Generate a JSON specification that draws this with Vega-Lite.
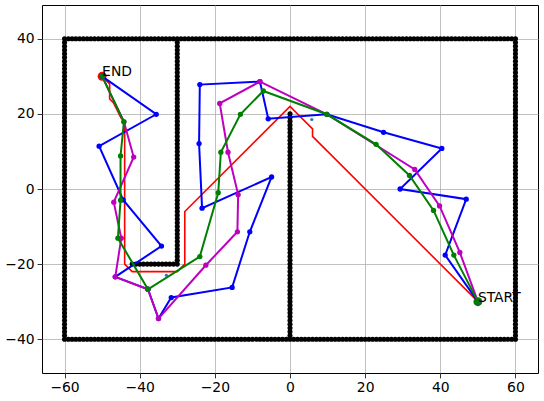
{
  "$schema": "https://vega.github.io/schema/vega-lite/v6.json",
  "width": 496,
  "height": 368,
  "autosize": "none",
  "padding": {"left": 42, "top": 5, "right": 6, "bottom": 28},
  "background": "white",
  "config": {
    "view": {"stroke": "black", "strokeWidth": 1},
    "axis": {
      "grid": true, "gridColor": "#b0b0b0", "gridWidth": 0.8,
      "domain": false, "tickColor": "black", "tickSize": 4.9, "tickWidth": 0.8,
      "labelFont": "DejaVu Sans", "labelFontSize": 13.9, "labelColor": "black",
      "labelPadding": 3, "title": null
    }
  },
  "datasets": {
    "walls": [
      {"x":-60,"y":40},{"x":-59,"y":40},{"x":-58,"y":40},{"x":-57,"y":40},{"x":-56,"y":40},{"x":-55,"y":40},{"x":-54,"y":40},{"x":-53,"y":40},{"x":-52,"y":40},{"x":-51,"y":40},
      {"x":-50,"y":40},{"x":-49,"y":40},{"x":-48,"y":40},{"x":-47,"y":40},{"x":-46,"y":40},{"x":-45,"y":40},{"x":-44,"y":40},{"x":-43,"y":40},{"x":-42,"y":40},{"x":-41,"y":40},
      {"x":-40,"y":40},{"x":-39,"y":40},{"x":-38,"y":40},{"x":-37,"y":40},{"x":-36,"y":40},{"x":-35,"y":40},{"x":-34,"y":40},{"x":-33,"y":40},{"x":-32,"y":40},{"x":-31,"y":40},
      {"x":-30,"y":40},{"x":-29,"y":40},{"x":-28,"y":40},{"x":-27,"y":40},{"x":-26,"y":40},{"x":-25,"y":40},{"x":-24,"y":40},{"x":-23,"y":40},{"x":-22,"y":40},{"x":-21,"y":40},
      {"x":-20,"y":40},{"x":-19,"y":40},{"x":-18,"y":40},{"x":-17,"y":40},{"x":-16,"y":40},{"x":-15,"y":40},{"x":-14,"y":40},{"x":-13,"y":40},{"x":-12,"y":40},{"x":-11,"y":40},
      {"x":-10,"y":40},{"x":-9,"y":40},{"x":-8,"y":40},{"x":-7,"y":40},{"x":-6,"y":40},{"x":-5,"y":40},{"x":-4,"y":40},{"x":-3,"y":40},{"x":-2,"y":40},{"x":-1,"y":40},
      {"x":0,"y":40},{"x":1,"y":40},{"x":2,"y":40},{"x":3,"y":40},{"x":4,"y":40},{"x":5,"y":40},{"x":6,"y":40},{"x":7,"y":40},{"x":8,"y":40},{"x":9,"y":40},
      {"x":10,"y":40},{"x":11,"y":40},{"x":12,"y":40},{"x":13,"y":40},{"x":14,"y":40},{"x":15,"y":40},{"x":16,"y":40},{"x":17,"y":40},{"x":18,"y":40},{"x":19,"y":40},
      {"x":20,"y":40},{"x":21,"y":40},{"x":22,"y":40},{"x":23,"y":40},{"x":24,"y":40},{"x":25,"y":40},{"x":26,"y":40},{"x":27,"y":40},{"x":28,"y":40},{"x":29,"y":40},
      {"x":30,"y":40},{"x":31,"y":40},{"x":32,"y":40},{"x":33,"y":40},{"x":34,"y":40},{"x":35,"y":40},{"x":36,"y":40},{"x":37,"y":40},{"x":38,"y":40},{"x":39,"y":40},
      {"x":40,"y":40},{"x":41,"y":40},{"x":42,"y":40},{"x":43,"y":40},{"x":44,"y":40},{"x":45,"y":40},{"x":46,"y":40},{"x":47,"y":40},{"x":48,"y":40},{"x":49,"y":40},
      {"x":50,"y":40},{"x":51,"y":40},{"x":52,"y":40},{"x":53,"y":40},{"x":54,"y":40},{"x":55,"y":40},{"x":56,"y":40},{"x":57,"y":40},{"x":58,"y":40},{"x":59,"y":40},{"x":60,"y":40},

      {"x":-60,"y":-40},{"x":-59,"y":-40},{"x":-58,"y":-40},{"x":-57,"y":-40},{"x":-56,"y":-40},{"x":-55,"y":-40},{"x":-54,"y":-40},{"x":-53,"y":-40},{"x":-52,"y":-40},{"x":-51,"y":-40},
      {"x":-50,"y":-40},{"x":-49,"y":-40},{"x":-48,"y":-40},{"x":-47,"y":-40},{"x":-46,"y":-40},{"x":-45,"y":-40},{"x":-44,"y":-40},{"x":-43,"y":-40},{"x":-42,"y":-40},{"x":-41,"y":-40},
      {"x":-40,"y":-40},{"x":-39,"y":-40},{"x":-38,"y":-40},{"x":-37,"y":-40},{"x":-36,"y":-40},{"x":-35,"y":-40},{"x":-34,"y":-40},{"x":-33,"y":-40},{"x":-32,"y":-40},{"x":-31,"y":-40},
      {"x":-30,"y":-40},{"x":-29,"y":-40},{"x":-28,"y":-40},{"x":-27,"y":-40},{"x":-26,"y":-40},{"x":-25,"y":-40},{"x":-24,"y":-40},{"x":-23,"y":-40},{"x":-22,"y":-40},{"x":-21,"y":-40},
      {"x":-20,"y":-40},{"x":-19,"y":-40},{"x":-18,"y":-40},{"x":-17,"y":-40},{"x":-16,"y":-40},{"x":-15,"y":-40},{"x":-14,"y":-40},{"x":-13,"y":-40},{"x":-12,"y":-40},{"x":-11,"y":-40},
      {"x":-10,"y":-40},{"x":-9,"y":-40},{"x":-8,"y":-40},{"x":-7,"y":-40},{"x":-6,"y":-40},{"x":-5,"y":-40},{"x":-4,"y":-40},{"x":-3,"y":-40},{"x":-2,"y":-40},{"x":-1,"y":-40},
      {"x":0,"y":-40},{"x":1,"y":-40},{"x":2,"y":-40},{"x":3,"y":-40},{"x":4,"y":-40},{"x":5,"y":-40},{"x":6,"y":-40},{"x":7,"y":-40},{"x":8,"y":-40},{"x":9,"y":-40},
      {"x":10,"y":-40},{"x":11,"y":-40},{"x":12,"y":-40},{"x":13,"y":-40},{"x":14,"y":-40},{"x":15,"y":-40},{"x":16,"y":-40},{"x":17,"y":-40},{"x":18,"y":-40},{"x":19,"y":-40},
      {"x":20,"y":-40},{"x":21,"y":-40},{"x":22,"y":-40},{"x":23,"y":-40},{"x":24,"y":-40},{"x":25,"y":-40},{"x":26,"y":-40},{"x":27,"y":-40},{"x":28,"y":-40},{"x":29,"y":-40},
      {"x":30,"y":-40},{"x":31,"y":-40},{"x":32,"y":-40},{"x":33,"y":-40},{"x":34,"y":-40},{"x":35,"y":-40},{"x":36,"y":-40},{"x":37,"y":-40},{"x":38,"y":-40},{"x":39,"y":-40},
      {"x":40,"y":-40},{"x":41,"y":-40},{"x":42,"y":-40},{"x":43,"y":-40},{"x":44,"y":-40},{"x":45,"y":-40},{"x":46,"y":-40},{"x":47,"y":-40},{"x":48,"y":-40},{"x":49,"y":-40},
      {"x":50,"y":-40},{"x":51,"y":-40},{"x":52,"y":-40},{"x":53,"y":-40},{"x":54,"y":-40},{"x":55,"y":-40},{"x":56,"y":-40},{"x":57,"y":-40},{"x":58,"y":-40},{"x":59,"y":-40},{"x":60,"y":-40},

      {"x":-60,"y":-39},{"x":-60,"y":-38},{"x":-60,"y":-37},{"x":-60,"y":-36},{"x":-60,"y":-35},{"x":-60,"y":-34},{"x":-60,"y":-33},{"x":-60,"y":-32},{"x":-60,"y":-31},{"x":-60,"y":-30},
      {"x":-60,"y":-29},{"x":-60,"y":-28},{"x":-60,"y":-27},{"x":-60,"y":-26},{"x":-60,"y":-25},{"x":-60,"y":-24},{"x":-60,"y":-23},{"x":-60,"y":-22},{"x":-60,"y":-21},{"x":-60,"y":-20},
      {"x":-60,"y":-19},{"x":-60,"y":-18},{"x":-60,"y":-17},{"x":-60,"y":-16},{"x":-60,"y":-15},{"x":-60,"y":-14},{"x":-60,"y":-13},{"x":-60,"y":-12},{"x":-60,"y":-11},{"x":-60,"y":-10},
      {"x":-60,"y":-9},{"x":-60,"y":-8},{"x":-60,"y":-7},{"x":-60,"y":-6},{"x":-60,"y":-5},{"x":-60,"y":-4},{"x":-60,"y":-3},{"x":-60,"y":-2},{"x":-60,"y":-1},{"x":-60,"y":0},
      {"x":-60,"y":1},{"x":-60,"y":2},{"x":-60,"y":3},{"x":-60,"y":4},{"x":-60,"y":5},{"x":-60,"y":6},{"x":-60,"y":7},{"x":-60,"y":8},{"x":-60,"y":9},{"x":-60,"y":10},
      {"x":-60,"y":11},{"x":-60,"y":12},{"x":-60,"y":13},{"x":-60,"y":14},{"x":-60,"y":15},{"x":-60,"y":16},{"x":-60,"y":17},{"x":-60,"y":18},{"x":-60,"y":19},{"x":-60,"y":20},
      {"x":-60,"y":21},{"x":-60,"y":22},{"x":-60,"y":23},{"x":-60,"y":24},{"x":-60,"y":25},{"x":-60,"y":26},{"x":-60,"y":27},{"x":-60,"y":28},{"x":-60,"y":29},{"x":-60,"y":30},
      {"x":-60,"y":31},{"x":-60,"y":32},{"x":-60,"y":33},{"x":-60,"y":34},{"x":-60,"y":35},{"x":-60,"y":36},{"x":-60,"y":37},{"x":-60,"y":38},{"x":-60,"y":39},

      {"x":60,"y":-39},{"x":60,"y":-38},{"x":60,"y":-37},{"x":60,"y":-36},{"x":60,"y":-35},{"x":60,"y":-34},{"x":60,"y":-33},{"x":60,"y":-32},{"x":60,"y":-31},{"x":60,"y":-30},
      {"x":60,"y":-29},{"x":60,"y":-28},{"x":60,"y":-27},{"x":60,"y":-26},{"x":60,"y":-25},{"x":60,"y":-24},{"x":60,"y":-23},{"x":60,"y":-22},{"x":60,"y":-21},{"x":60,"y":-20},
      {"x":60,"y":-19},{"x":60,"y":-18},{"x":60,"y":-17},{"x":60,"y":-16},{"x":60,"y":-15},{"x":60,"y":-14},{"x":60,"y":-13},{"x":60,"y":-12},{"x":60,"y":-11},{"x":60,"y":-10},
      {"x":60,"y":-9},{"x":60,"y":-8},{"x":60,"y":-7},{"x":60,"y":-6},{"x":60,"y":-5},{"x":60,"y":-4},{"x":60,"y":-3},{"x":60,"y":-2},{"x":60,"y":-1},{"x":60,"y":0},
      {"x":60,"y":1},{"x":60,"y":2},{"x":60,"y":3},{"x":60,"y":4},{"x":60,"y":5},{"x":60,"y":6},{"x":60,"y":7},{"x":60,"y":8},{"x":60,"y":9},{"x":60,"y":10},
      {"x":60,"y":11},{"x":60,"y":12},{"x":60,"y":13},{"x":60,"y":14},{"x":60,"y":15},{"x":60,"y":16},{"x":60,"y":17},{"x":60,"y":18},{"x":60,"y":19},{"x":60,"y":20},
      {"x":60,"y":21},{"x":60,"y":22},{"x":60,"y":23},{"x":60,"y":24},{"x":60,"y":25},{"x":60,"y":26},{"x":60,"y":27},{"x":60,"y":28},{"x":60,"y":29},{"x":60,"y":30},
      {"x":60,"y":31},{"x":60,"y":32},{"x":60,"y":33},{"x":60,"y":34},{"x":60,"y":35},{"x":60,"y":36},{"x":60,"y":37},{"x":60,"y":38},{"x":60,"y":39},

      {"x":-30,"y":-20},{"x":-30,"y":-19},{"x":-30,"y":-18},{"x":-30,"y":-17},{"x":-30,"y":-16},{"x":-30,"y":-15},{"x":-30,"y":-14},{"x":-30,"y":-13},{"x":-30,"y":-12},{"x":-30,"y":-11},
      {"x":-30,"y":-10},{"x":-30,"y":-9},{"x":-30,"y":-8},{"x":-30,"y":-7},{"x":-30,"y":-6},{"x":-30,"y":-5},{"x":-30,"y":-4},{"x":-30,"y":-3},{"x":-30,"y":-2},{"x":-30,"y":-1},
      {"x":-30,"y":0},{"x":-30,"y":1},{"x":-30,"y":2},{"x":-30,"y":3},{"x":-30,"y":4},{"x":-30,"y":5},{"x":-30,"y":6},{"x":-30,"y":7},{"x":-30,"y":8},{"x":-30,"y":9},
      {"x":-30,"y":10},{"x":-30,"y":11},{"x":-30,"y":12},{"x":-30,"y":13},{"x":-30,"y":14},{"x":-30,"y":15},{"x":-30,"y":16},{"x":-30,"y":17},{"x":-30,"y":18},{"x":-30,"y":19},
      {"x":-30,"y":20},{"x":-30,"y":21},{"x":-30,"y":22},{"x":-30,"y":23},{"x":-30,"y":24},{"x":-30,"y":25},{"x":-30,"y":26},{"x":-30,"y":27},{"x":-30,"y":28},{"x":-30,"y":29},
      {"x":-30,"y":30},{"x":-30,"y":31},{"x":-30,"y":32},{"x":-30,"y":33},{"x":-30,"y":34},{"x":-30,"y":35},{"x":-30,"y":36},{"x":-30,"y":37},{"x":-30,"y":38},{"x":-30,"y":39},

      {"x":-42,"y":-20},{"x":-41,"y":-20},{"x":-40,"y":-20},{"x":-39,"y":-20},{"x":-38,"y":-20},{"x":-37,"y":-20},{"x":-36,"y":-20},{"x":-35,"y":-20},{"x":-34,"y":-20},{"x":-33,"y":-20},{"x":-32,"y":-20},{"x":-31,"y":-20},

      {"x":0,"y":-39},{"x":0,"y":-38},{"x":0,"y":-37},{"x":0,"y":-36},{"x":0,"y":-35},{"x":0,"y":-34},{"x":0,"y":-33},{"x":0,"y":-32},{"x":0,"y":-31},{"x":0,"y":-30},
      {"x":0,"y":-29},{"x":0,"y":-28},{"x":0,"y":-27},{"x":0,"y":-26},{"x":0,"y":-25},{"x":0,"y":-24},{"x":0,"y":-23},{"x":0,"y":-22},{"x":0,"y":-21},{"x":0,"y":-20},
      {"x":0,"y":-19},{"x":0,"y":-18},{"x":0,"y":-17},{"x":0,"y":-16},{"x":0,"y":-15},{"x":0,"y":-14},{"x":0,"y":-13},{"x":0,"y":-12},{"x":0,"y":-11},{"x":0,"y":-10},
      {"x":0,"y":-9},{"x":0,"y":-8},{"x":0,"y":-7},{"x":0,"y":-6},{"x":0,"y":-5},{"x":0,"y":-4},{"x":0,"y":-3},{"x":0,"y":-2},{"x":0,"y":-1},{"x":0,"y":0},
      {"x":0,"y":1},{"x":0,"y":2},{"x":0,"y":3},{"x":0,"y":4},{"x":0,"y":5},{"x":0,"y":6},{"x":0,"y":7},{"x":0,"y":8},{"x":0,"y":9},{"x":0,"y":10},
      {"x":0,"y":11},{"x":0,"y":12},{"x":0,"y":13},{"x":0,"y":14},{"x":0,"y":15},{"x":0,"y":16},{"x":0,"y":17},{"x":0,"y":18},{"x":0,"y":19},{"x":0,"y":20}
    ],
    "paths": [
      {"s":"astar","i":0,"x":50,"y":-30},{"s":"astar","i":1,"x":6,"y":14},{"s":"astar","i":2,"x":6,"y":16},{"s":"astar","i":3,"x":0,"y":22},
      {"s":"astar","i":4,"x":-28,"y":-6},{"s":"astar","i":5,"x":-28,"y":-20},{"s":"astar","i":6,"x":-30,"y":-22},{"s":"astar","i":7,"x":-42,"y":-22},
      {"s":"astar","i":8,"x":-44,"y":-20},{"s":"astar","i":9,"x":-44,"y":18},{"s":"astar","i":10,"x":-45,"y":19},{"s":"astar","i":11,"x":-46,"y":21},
      {"s":"astar","i":12,"x":-47,"y":23},{"s":"astar","i":13,"x":-48,"y":24},{"s":"astar","i":14,"x":-48,"y":28},{"s":"astar","i":15,"x":-50,"y":30},

      {"s":"rrt","i":0,"x":50,"y":-30},{"s":"rrt","i":1,"x":41.3,"y":-17.6},{"s":"rrt","i":2,"x":46.9,"y":-2.7},{"s":"rrt","i":3,"x":29.3,"y":0},
      {"s":"rrt","i":4,"x":40.4,"y":10.8},{"s":"rrt","i":5,"x":24.9,"y":15.1},{"s":"rrt","i":6,"x":9.8,"y":19.9},{"s":"rrt","i":7,"x":-5.8,"y":18.7},
      {"s":"rrt","i":8,"x":-8,"y":28.6},{"s":"rrt","i":9,"x":-24,"y":27.8},{"s":"rrt","i":10,"x":-24.2,"y":12.1},{"s":"rrt","i":11,"x":-23.4,"y":-5.1},
      {"s":"rrt","i":12,"x":-4.9,"y":3.2},{"s":"rrt","i":13,"x":-10.7,"y":-11.4},{"s":"rrt","i":14,"x":-15.4,"y":-26.2},{"s":"rrt","i":15,"x":-31.6,"y":-28.9},
      {"s":"rrt","i":16,"x":-35,"y":-34.5},{"s":"rrt","i":17,"x":-37.8,"y":-26.7},{"s":"rrt","i":18,"x":-46.5,"y":-23.4},{"s":"rrt","i":19,"x":-34.2,"y":-15.2},
      {"s":"rrt","i":20,"x":-44.4,"y":-2.9},{"s":"rrt","i":21,"x":-50.8,"y":11.4},{"s":"rrt","i":22,"x":-35.6,"y":19.9},{"s":"rrt","i":23,"x":-50,"y":30},

      {"s":"rrtstar","i":0,"x":50,"y":-30},{"s":"rrtstar","i":1,"x":45.2,"y":-16.9},{"s":"rrtstar","i":2,"x":39.8,"y":-4.5},{"s":"rrtstar","i":3,"x":33.2,"y":5.2},
      {"s":"rrtstar","i":4,"x":9.8,"y":19.9},{"s":"rrtstar","i":5,"x":-8,"y":28.6},{"s":"rrtstar","i":6,"x":-18.7,"y":22.8},{"s":"rrtstar","i":7,"x":-16.5,"y":9.8},
      {"s":"rrtstar","i":8,"x":-13.8,"y":-1.5},{"s":"rrtstar","i":9,"x":-14,"y":-11.4},{"s":"rrtstar","i":10,"x":-22.4,"y":-20.3},{"s":"rrtstar","i":11,"x":-35,"y":-34.5},
      {"s":"rrtstar","i":12,"x":-37.8,"y":-26.7},{"s":"rrtstar","i":13,"x":-46.5,"y":-23.4},{"s":"rrtstar","i":14,"x":-44.9,"y":-13.1},{"s":"rrtstar","i":15,"x":-46.9,"y":-3.5},
      {"s":"rrtstar","i":16,"x":-41.6,"y":8.5},{"s":"rrtstar","i":17,"x":-44.2,"y":17.9},{"s":"rrtstar","i":18,"x":-50,"y":30},

      {"s":"smooth","i":0,"x":50,"y":-30},{"s":"smooth","i":1,"x":43.6,"y":-17.6},{"s":"smooth","i":2,"x":38.2,"y":-5.7},{"s":"smooth","i":3,"x":31.8,"y":3.6},
      {"s":"smooth","i":4,"x":22.9,"y":11.9},{"s":"smooth","i":5,"x":9.8,"y":19.9},{"s":"smooth","i":6,"x":-7.1,"y":26.1},{"s":"smooth","i":7,"x":-13.2,"y":19.9},
      {"s":"smooth","i":8,"x":-18.4,"y":9.8},{"s":"smooth","i":9,"x":-19.1,"y":-1},{"s":"smooth","i":10,"x":-24,"y":-18},{"s":"smooth","i":11,"x":-37.8,"y":-26.7},
      {"s":"smooth","i":12,"x":-45.8,"y":-13.1},{"s":"smooth","i":13,"x":-45.1,"y":-3},{"s":"smooth","i":14,"x":-45.1,"y":8.8},{"s":"smooth","i":15,"x":-44.2,"y":17.9},
      {"s":"smooth","i":16,"x":-50,"y":30}
    ],
    "ends": [
      {"label":"START","x":50,"y":-30},
      {"label":"END","x":-50,"y":30}
    ],
    "samples": [
      {"x":5.8,"y":18.5},
      {"x":-32.9,"y":-23}
    ]
  },
  "encoding": {
    "x": {"field": "x", "type": "quantitative",
          "scale": {"domain": [-66, 66], "nice": false, "zero": false},
          "axis": {"values": [-60, -40, -20, 0, 20, 40, 60]}},
    "y": {"field": "y", "type": "quantitative",
          "scale": {"domain": [-49, 49], "nice": false, "zero": false},
          "axis": {"values": [-40, -20, 0, 20, 40]}}
  },
  "layer": [
    {
      "data": {"name": "walls"},
      "mark": {"type": "point", "filled": true, "color": "black", "size": 26, "opacity": 1}
    },
    {
      "data": {"name": "ends"},
      "mark": {"type": "point", "filled": true, "size": 80, "opacity": 1},
      "encoding": {
        "color": {"field": "label", "type": "nominal",
                  "scale": {"domain": ["START", "END"], "range": ["#008000", "#ff0000"]},
                  "legend": null}
      }
    },
    {
      "data": {"name": "paths"},
      "transform": [{"filter": "datum.s === 'astar'"}],
      "mark": {"type": "line", "color": "#ff0000", "strokeWidth": 1.6},
      "encoding": {"order": {"field": "i", "type": "quantitative"}}
    },
    {
      "data": {"name": "paths"},
      "transform": [{"filter": "datum.s === 'rrt'"}],
      "mark": {"type": "line", "color": "#0000ff", "strokeWidth": 2,
               "point": {"filled": true, "color": "#0000ff", "size": 28, "opacity": 1}},
      "encoding": {"order": {"field": "i", "type": "quantitative"}}
    },
    {
      "data": {"name": "paths"},
      "transform": [{"filter": "datum.s === 'rrtstar'"}],
      "mark": {"type": "line", "color": "#bf00bf", "strokeWidth": 2,
               "point": {"filled": true, "color": "#bf00bf", "size": 28, "opacity": 1}},
      "encoding": {"order": {"field": "i", "type": "quantitative"}}
    },
    {
      "data": {"name": "paths"},
      "transform": [{"filter": "datum.s === 'smooth'"}],
      "mark": {"type": "line", "color": "#008000", "strokeWidth": 2,
               "point": {"filled": true, "color": "#008000", "size": 28, "opacity": 1}},
      "encoding": {"order": {"field": "i", "type": "quantitative"}}
    },
    {
      "data": {"name": "samples"},
      "mark": {"type": "point", "filled": true, "color": "#1f77b4", "size": 10, "opacity": 1}
    },
    {
      "data": {"name": "ends"},
      "mark": {"type": "text", "align": "left", "baseline": "alphabetic",
               "font": "DejaVu Sans", "fontSize": 13.9, "color": "black"},
      "encoding": {"text": {"field": "label", "type": "nominal"}}
    }
  ]
}
